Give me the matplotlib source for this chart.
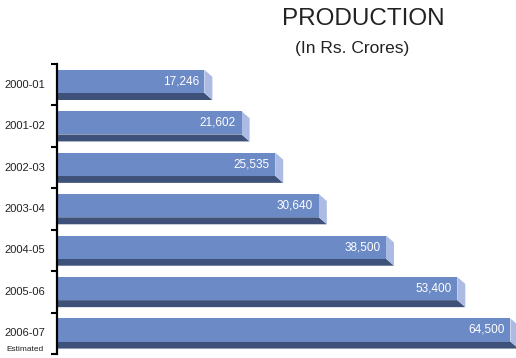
import matplotlib
matplotlib.use("Agg")
import matplotlib.pyplot as plt
import numpy as np
from matplotlib.patches import Polygon
from matplotlib import transforms

plt.rcParams['font.family'] = ['Liberation Sans', 'DejaVu Sans']

years = ["2000-01", "2001-02", "2002-03", "2003-04", "2004-05", "2005-06", "2006-07"]
production = [17246, 21602, 25535, 30640, 38500, 53400, 64500]
note_last = "Estimated"

FRONT = "#6b8ac6"
BOTTOM = "#3e5179"
SIDE = "#abbbe3"

# the original squeezes the two longest bars, so do the same with a scale
BREAK = 38500
SQUEEZE = 0.56


def fwd(v):
    v = np.asarray(v, dtype=float)
    return np.where(v <= BREAK, v, BREAK + (v - BREAK) * SQUEEZE)


def inv(u):
    u = np.asarray(u, dtype=float)
    return np.where(u <= BREAK, u, BREAK + (u - BREAK) / SQUEEZE)


W, H = 516, 358
fig = plt.figure(figsize=(W / 100, H / 100), dpi=100)
ax = fig.add_axes([57 / W, 4 / H, 459 / W, 290 / H])
ax.set_xscale("function", functions=(fwd, inv))
ax.set_xlim(0, float(inv(459 / 0.008545)))
ax.set_ylim(len(years) - 0.5, -0.5)

pos = np.arange(len(years))
shift = -0.08
h = 0.56
ax.barh(pos + shift, production, height=h, color=FRONT, zorder=3, clip_on=False)

# depth faces, offset down-right in pixels
dx, dy = 8, 7
back = ax.transData.inverted()
for i, v in enumerate(production):
    x0, yt = ax.transData.transform((0, pos[i] + shift - h / 2))
    x1, yb = ax.transData.transform((v, pos[i] + shift + h / 2))
    bottom = [(x0, yb), (x1, yb), (x1 + dx, yb - dy), (x0, yb - dy)]
    side = [(x1, yt), (x1 + dx, yt - dy), (x1 + dx, yb - dy), (x1, yb)]
    ax.add_patch(Polygon(back.transform(bottom), closed=True, color=BOTTOM,
                         lw=0, zorder=2, clip_on=False))
    ax.add_patch(Polygon(back.transform(side), closed=True, color=SIDE,
                         lw=0, zorder=2, clip_on=False))
    ax.annotate("{:,}".format(v), (v, pos[i] + shift), xytext=(-4, 0),
                textcoords="offset points", ha="right", va="center",
                color="white", fontsize=8.5, zorder=4)

for s in ["top", "right", "bottom"]:
    ax.spines[s].set_visible(False)
ax.spines["left"].set_linewidth(1.6)
ax.spines["left"].set_zorder(5)
ax.set_xticks([])
ax.set_yticks(np.arange(-0.5, len(years), 1.0))
ax.set_yticklabels([])
ax.tick_params(axis="y", length=4, width=1.5, direction="out")

lab = transforms.blended_transform_factory(ax.transAxes, ax.transData)
for i, name in enumerate(years):
    ax.text(-12 / 459, pos[i], name, transform=lab, ha="right", va="center",
            fontsize=8, color="#222222")
ax.text(-13 / 459, pos[-1] + 0.39, note_last, transform=lab, ha="right",
        va="center", fontsize=6, color="#222222")

fig.text(363 / W, 1 - 25 / H, "PRODUCTION", ha="center", va="baseline",
         fontsize=17.5, color="#222222")
fig.text(352 / W, 1 - 53 / H, "(In Rs. Crores)", ha="center", va="baseline",
         fontsize=12.5, color="#222222")

fig.savefig("out.png", dpi=100)
